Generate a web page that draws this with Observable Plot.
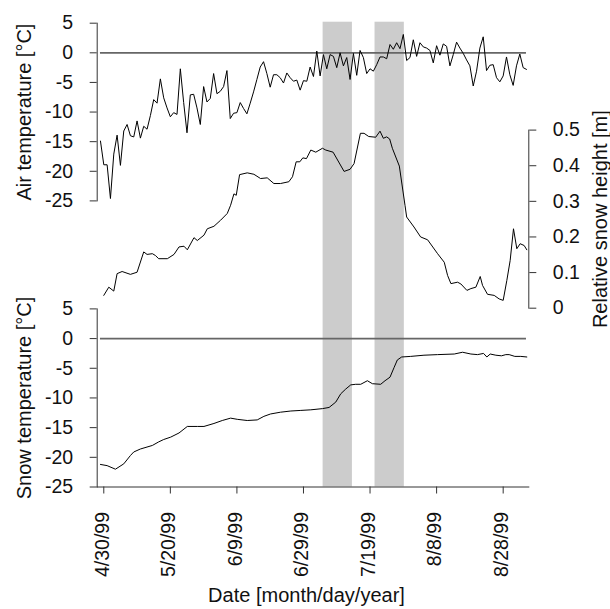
<!DOCTYPE html>
<html>
<head>
<meta charset="utf-8">
<script src="https://cdn.jsdelivr.net/npm/d3@7"></script>
<script src="https://cdn.jsdelivr.net/npm/@observablehq/plot@0.6"></script>
<style>
  html, body { margin: 0; padding: 0; background: #fff; }
  #chart { position: relative; width: 610px; height: 609px; }
  #chart svg { position: absolute; left: 0; top: 0; }
</style>
</head>
<body>
<div id="chart"></div>
<script>
// Days are counted from 30 April 1999 (day 0).
const ORIGIN = Date.UTC(1999, 3, 30);
const day = (n) => new Date(ORIGIN + n * 864e5);

// Daily air temperature [°C], starting on day -1 (29 April 1999)
const airTempFirstDay = -1;
const airTemp = [
  -14.9, -18.9, -18.9, -24.6, -17.1, -13.9, -19.0, -13.2, -12.1, -14.0,
  -14.2, -11.5, -14.4, -12.4, -12.9, -10.6, -7.9, -8.5, -4.4, -7.6,
  -9.3, -10.8, -10.1, -10.4, -2.7, -8.4, -13.5, -7.1, -7.0, -9.3,
  -12.1, -5.7, -8.3, -7.7, -3.5, -6.9, -6.5, -5.7, -3.0, -11.1,
  -10.2, -10.1, -8.4, -9.4, -10.3, -8.5, -6.6, -4.5, -2.4, -1.5,
  -3.5, -5.8, -3.7, -3.7, -4.2, -5.1, -3.4, -4.2, -4.8, -4.6,
  -6.3, -4.7, -4.8, -2.4, -4.0, 0.3, -3.9, -0.3, -2.7, -0.3,
  -0.6, -2.5, 0.0, -2.2, -0.8, -4.5, -0.1, -3.8, 0.4, -0.8,
  -3.5, -2.7, -3.1, -2.0, -0.7, -0.7, -1.0, 1.4, 0.6, 1.7,
  0.7, 3.1, -1.3, -0.8, 2.2, -0.6, 1.7, 1.0, 0.8, 0.4,
  -1.7, 1.2, -0.4, 1.5, 1.1, -2.2, -0.3, 1.8, 0.8, -0.1,
  -1.2, -2.2, -5.6, -3.1, 0.8, 2.7, -3.0, -2.1, -2.0, -4.2,
  -4.9, -3.9, -0.7, -3.7, -5.5, -2.2, -0.2, -2.5, -2.8
];

// Relative snow height [m]
const snowHeightDay = [
  0, 1.5, 3, 4, 5.5, 8, 10, 12, 13, 14.6, 15.5, 16.5, 19.1, 21.1, 22.6, 24.1,
  25.1, 27.1, 28.1, 30.1, 31.1, 33.1, 35.1, 37.1, 38.1, 39.1, 39.8, 40.8, 43.1,
  45.1, 47.1, 49.1, 51.1, 53.1, 55.6, 56.7, 57.8, 58.9, 59.8, 60.9, 62.2, 63.7,
  65.7, 66.7, 68.9, 72.2, 74.0, 75.2, 77.1, 78.2, 79.6, 81.7, 83.0, 84.0, 85.0,
  85.9, 86.7, 88.8, 90.5, 91.0, 93.2, 95.2, 97.3, 100.3, 102.3, 103.3, 104.3,
  106.3, 107.3, 109.1, 110.3, 111.8, 113.1, 113.8, 115.3, 117.3, 118.8, 120.0,
  121.1, 122.1, 123.1, 124.1, 125.1, 126.3, 127.1
];
const snowHeight = [
  0.036, 0.059, 0.048, 0.097, 0.103, 0.095, 0.101, 0.158, 0.151, 0.153, 0.148,
  0.139, 0.139, 0.151, 0.172, 0.174, 0.164, 0.198, 0.190, 0.205, 0.223, 0.230,
  0.247, 0.266, 0.289, 0.321, 0.317, 0.375, 0.380, 0.376, 0.364, 0.366, 0.350,
  0.350, 0.355, 0.369, 0.411, 0.411, 0.422, 0.420, 0.444, 0.438, 0.449, 0.444,
  0.438, 0.384, 0.390, 0.406, 0.491, 0.491, 0.482, 0.480, 0.497, 0.477, 0.481,
  0.475, 0.449, 0.399, 0.289, 0.256, 0.228, 0.200, 0.192, 0.153, 0.129, 0.092,
  0.069, 0.073, 0.068, 0.050, 0.055, 0.059, 0.089, 0.064, 0.039, 0.036, 0.026,
  0.022, 0.078, 0.134, 0.223, 0.167, 0.181, 0.176, 0.164
];

// Snow temperature [°C]
const snowTempDay = [
  -1, 1, 3.5, 6, 8, 9, 11, 14.6, 16.5, 18, 20.1, 22.6, 25.1, 28.1, 30.1, 33.1,
  35.6, 38.1, 40.1, 43.1, 46.1, 48.1, 50.1, 53.1, 56.2, 59.2, 62.2, 65.7, 67.7,
  69.7, 71.2, 72.7, 74.2, 75.7, 77.2, 79.2, 80.7, 83.2, 84.5, 86.0, 87.2, 88.2,
  89.5, 92.2, 96.2, 100.3, 105.3, 107.8, 110.3, 112.3, 114.1, 115.1, 116.1,
  117.8, 119.5, 120.8, 121.8, 123.5, 125.3, 127.1
];
const snowTemp = [
  -21.2, -21.4, -22.0, -21.1, -19.7, -19.1, -18.6, -18.0, -17.4, -17.0, -16.6,
  -15.9, -14.8, -14.8, -14.8, -14.3, -13.8, -13.4, -13.6, -13.8, -13.7, -13.1,
  -12.7, -12.4, -12.2, -12.1, -12.0, -11.8, -11.6, -10.7, -9.3, -8.5, -7.8,
  -7.7, -7.7, -7.1, -7.6, -7.7, -7.1, -6.5, -4.9, -3.6, -3.1, -3.0, -2.8,
  -2.7, -2.6, -2.3, -2.6, -2.7, -2.5, -3.1, -2.6, -2.8, -2.9, -2.7, -2.7,
  -3.0, -3.0, -3.1
];

// Shaded periods (day numbers)
const shadeStart = [65.9, 81.5];
const shadeEnd = [74.7, 90.3];

// Axis ticks
const dateTicks = [0, 20, 40, 60, 80, 100, 120];
const dateTickLabels = ["4/30/99", "5/20/99", "6/9/99", "6/29/99", "7/19/99", "8/8/99", "8/28/99"];
const tempTicks = [-25, -20, -15, -10, -5, 0, 5];
const heightTicks = [0, 0.1, 0.2, 0.3, 0.4, 0.5];

// Record period (first and last day of the series)
const recordFirst = -1, recordLast = 127;

// ---- layout ----
const W = 610, H = 609;
const left = 96.7, right = 528.3;
const FONT = "'Liberation Sans', Arial, Helvetica, sans-serif";
const FS = 19.5;
const AXIS = "#333";
const xDomain = [day(-1.98), day(127.7)];

function layer({top, bottom, y, marks, xAxis = false}) {
  return Plot.plot({
    width: W,
    height: H,
    marginLeft: left,
    marginRight: W - right,
    marginTop: top,
    marginBottom: H - bottom,
    x: {type: "utc", domain: xDomain, axis: xAxis ? undefined : null},
    y: y ?? {axis: null},
    style: {background: "transparent", fontFamily: FONT, fontSize: FS + "px", color: "#000", overflow: "visible"},
    marks
  });
}

const title = (text, opts) => Plot.text([text], {
  text: (d) => d, fontSize: FS + 0.5, fill: "#111", textAnchor: "middle", lineAnchor: "middle", ...opts
});

const tickLabel = (d) => dateTickLabels[dateTicks.indexOf(Math.round((d - ORIGIN) / 864e5))];

const chart = document.getElementById("chart");

// Shaded periods across all panels
const shade = shadeStart.map((s, i) => ({s, e: shadeEnd[i]}));
chart.append(layer({
  top: 21.7, bottom: 486.5,
  marks: [
    Plot.rect(shade, {x1: (d) => day(d.s), x2: (d) => day(d.e), fill: "#cccccc"})
  ]
}));

// Top panel: air temperature
chart.append(layer({
  top: 22.7, bottom: 200.4,
  y: {domain: [-25, 5], axis: null},
  marks: [
    Plot.frame({anchor: "left", stroke: AXIS}),
    Plot.axisY(tempTicks, {anchor: "left", tickSize: 7, tickPadding: 17, tickFormat: (d) => String(d), stroke: AXIS, fill: "#111", fontSize: FS, label: null}),
    Plot.ruleY([0], {x1: day(recordFirst), x2: day(recordLast), stroke: "#666", strokeWidth: 1.7}),
    Plot.lineY(airTemp, {x: (d, i) => day(airTempFirstDay + i), y: (d) => d, stroke: "#000", strokeWidth: 1}),
    title("Air temperature [°C]", {frameAnchor: "left", dx: -73, rotate: -90})
  ]
}));

// Middle panel: relative snow height (right axis)
chart.append(layer({
  top: 129.6, bottom: 307.7,
  y: {domain: [0, 0.5], axis: null},
  marks: [
    Plot.frame({anchor: "right", stroke: AXIS}),
    Plot.axisY(heightTicks, {anchor: "right", tickSize: 7, tickPadding: 17, tickFormat: (d) => String(d), stroke: AXIS, fill: "#111", fontSize: FS, label: null}),
    Plot.line(snowHeight, {x: (d, i) => day(snowHeightDay[i]), y: (d) => d, stroke: "#000", strokeWidth: 1}),
    title("Relative snow height [m]", {frameAnchor: "right", dx: 72, rotate: -90})
  ]
}));

// Bottom panel: snow temperature with the date axis
chart.append(layer({
  top: 308.4, bottom: 486.5,
  y: {domain: [-25, 5], axis: null},
  xAxis: true,
  marks: [
    Plot.frame({anchor: "left", stroke: AXIS}),
    Plot.frame({anchor: "bottom", stroke: AXIS}),
    Plot.axisY(tempTicks, {anchor: "left", tickSize: 7, tickPadding: 17, tickFormat: (d) => String(d), stroke: AXIS, fill: "#111", fontSize: FS, label: null}),
    // date ticks
    Plot.axisX(dateTicks.map(day), {anchor: "bottom", tickSize: 7, tickFormat: () => "", stroke: AXIS, label: null}),
    // date labels, reading upwards
    Plot.axisX(dateTicks.map(day), {
      anchor: "bottom", tickSize: 0, tickPadding: 25, tickRotate: -90, dx: -1.5,
      tickFormat: tickLabel, fill: "#111", fontSize: FS, label: null
    }),
    Plot.ruleY([0], {x1: day(recordFirst), x2: day(recordLast), stroke: "#666", strokeWidth: 1.7}),
    Plot.line(snowTemp, {x: (d, i) => day(snowTempDay[i]), y: (d) => d, stroke: "#000", strokeWidth: 1}),
    title("Snow temperature [°C]", {frameAnchor: "left", dx: -73, rotate: -90}),
    title("Date [month/day/year]", {frameAnchor: "bottom", dx: -6.5, dy: 109})
  ]
}));
</script>
</body>
</html>
